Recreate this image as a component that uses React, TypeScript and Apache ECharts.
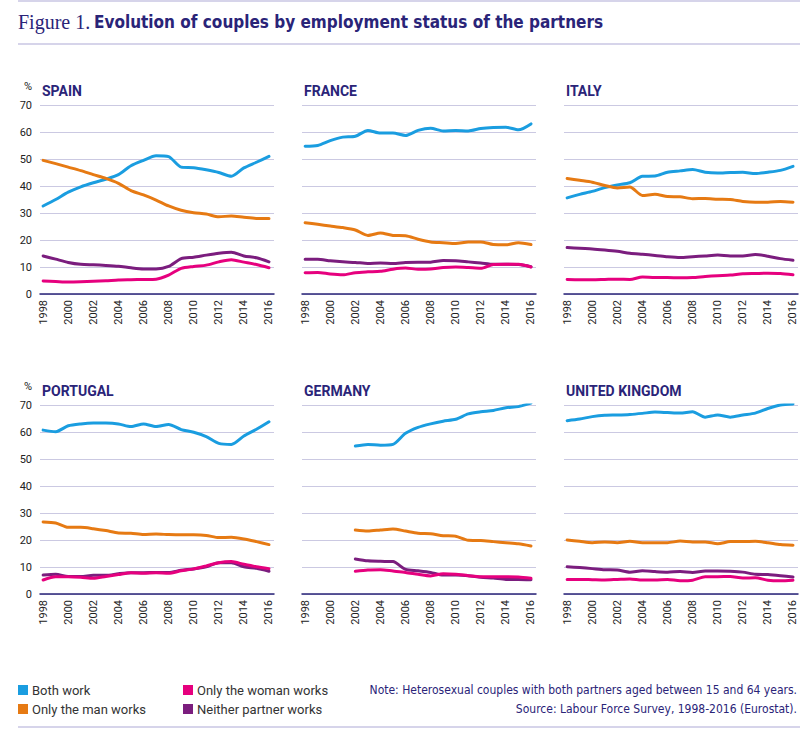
import React, { useEffect, useRef } from "react";
import * as echarts from "echarts";

const years = [1998, 1999, 2000, 2001, 2002, 2003, 2004, 2005, 2006, 2007, 2008, 2009, 2010, 2011, 2012, 2013, 2014, 2015, 2016];
const tickYears = [1998, 2000, 2002, 2004, 2006, 2008, 2010, 2012, 2014, 2016];
const yTicks = [0, 10, 20, 30, 40, 50, 60, 70];

const seriesNames = ["Both work", "Only the man works", "Neither partner works", "Only the woman works"];
const seriesColors = ["#1a9de0", "#e67a13", "#7b1d7e", "#e6007e"];

const countries = ["SPAIN", "FRANCE", "ITALY", "PORTUGAL", "GERMANY", "UNITED KINGDOM"];

// Spain
const spainBoth = [32.6, 35.0, 37.7, 39.7, 41.2, 42.5, 44.2, 47.5, 49.5, 51.2, 50.9, 47.0, 46.8, 46.0, 45.0, 43.6, 46.7, 48.8, 51.0];
const spainMan = [49.5, 48.3, 47.0, 45.7, 44.2, 42.8, 41.0, 38.3, 36.7, 34.8, 32.6, 31.0, 30.1, 29.6, 28.6, 28.9, 28.4, 28.0, 28.0];
const spainNeither = [14.1, 12.9, 11.7, 11.0, 10.8, 10.6, 10.3, 9.7, 9.3, 9.3, 10.2, 13.1, 13.6, 14.4, 15.1, 15.5, 14.1, 13.4, 11.9];
const spainWoman = [4.8, 4.6, 4.4, 4.5, 4.7, 4.9, 5.2, 5.3, 5.4, 5.5, 7.0, 9.5, 10.2, 10.7, 11.9, 12.7, 11.8, 10.9, 9.7];

// France
const franceBoth = [54.7, 55.0, 56.8, 58.1, 58.4, 60.6, 59.6, 59.6, 58.7, 60.6, 61.4, 60.4, 60.6, 60.4, 61.3, 61.7, 61.8, 60.8, 63.0];
const franceMan = [26.4, 25.8, 25.2, 24.6, 23.7, 21.7, 22.6, 21.7, 21.6, 20.3, 19.3, 19.0, 18.7, 19.3, 19.3, 18.3, 18.2, 19.0, 18.3];
const franceNeither = [12.9, 12.9, 12.3, 11.9, 11.7, 11.3, 11.5, 11.3, 11.7, 11.8, 11.8, 12.4, 12.3, 11.9, 11.5, 11.0, 11.0, 10.9, 10.1];
const franceWoman = [7.9, 8.0, 7.4, 7.1, 7.9, 8.2, 8.4, 9.2, 9.6, 9.2, 9.3, 9.8, 10.0, 9.8, 9.5, 10.9, 11.0, 11.0, 10.0];

// Italy
const italyBoth = [35.6, 36.9, 38.0, 39.4, 40.4, 41.2, 43.6, 43.7, 45.1, 45.6, 46.1, 45.1, 44.8, 45.0, 45.1, 44.6, 45.1, 45.8, 47.3];
const italyMan = [42.8, 42.1, 41.4, 40.2, 39.3, 39.6, 36.5, 36.9, 36.1, 36.0, 35.3, 35.4, 35.1, 35.0, 34.3, 34.0, 34.0, 34.3, 34.0];
const italyNeither = [17.2, 16.9, 16.7, 16.3, 15.8, 15.1, 14.7, 14.3, 13.8, 13.5, 13.8, 14.1, 14.4, 14.1, 14.1, 14.6, 14.0, 13.1, 12.5];
const italyWoman = [5.4, 5.3, 5.3, 5.4, 5.5, 5.4, 6.3, 6.1, 6.1, 6.0, 6.1, 6.5, 6.8, 7.0, 7.5, 7.6, 7.7, 7.6, 7.1];

// Portugal
const portugalBoth = [60.7, 60.1, 62.3, 63.0, 63.3, 63.3, 63.0, 62.0, 63.0, 62.0, 62.8, 60.9, 59.9, 58.3, 55.8, 55.4, 58.5, 61.0, 63.8];
const portugalMan = [26.7, 26.3, 24.7, 24.7, 24.2, 23.5, 22.6, 22.5, 22.0, 22.2, 22.0, 21.9, 21.9, 21.7, 20.9, 21.0, 20.4, 19.4, 18.3];
const portugalNeither = [7.0, 7.3, 6.5, 6.5, 6.9, 6.9, 7.5, 7.9, 7.9, 8.0, 8.0, 8.8, 9.3, 10.1, 11.6, 11.6, 10.1, 9.5, 8.4];
const portugalWoman = [5.2, 6.4, 6.4, 6.2, 5.8, 6.5, 7.2, 7.9, 7.7, 7.9, 7.7, 8.6, 9.3, 10.4, 11.6, 12.0, 11.0, 10.1, 9.4];

// Germany (data from 2002)
const germanyBoth = [null, null, null, null, 54.8, 55.4, 55.1, 55.4, 59.5, 61.7, 63.0, 64.0, 64.7, 66.7, 67.5, 68.0, 69.0, 69.4, 70.7];
const germanyMan = [null, null, null, null, 23.7, 23.3, 23.7, 24.1, 23.3, 22.5, 22.3, 21.6, 21.4, 19.9, 19.8, 19.4, 19.0, 18.6, 17.8];
const germanyNeither = [null, null, null, null, 13.0, 12.3, 12.1, 12.0, 9.1, 8.6, 8.0, 7.0, 7.0, 6.8, 6.2, 5.9, 5.4, 5.4, 5.3];
const germanyWoman = [null, null, null, null, 8.4, 8.9, 9.0, 8.5, 8.0, 7.3, 6.7, 7.5, 7.3, 6.8, 6.4, 6.4, 6.4, 6.3, 5.8];

// United Kingdom
const ukBoth = [64.2, 64.8, 65.7, 66.2, 66.3, 66.5, 66.9, 67.4, 67.2, 67.0, 67.5, 65.5, 66.3, 65.5, 66.3, 67.0, 68.7, 70.0, 70.4];
const ukMan = [20.0, 19.5, 19.0, 19.3, 19.0, 19.5, 19.0, 19.0, 19.0, 19.6, 19.3, 19.3, 18.6, 19.4, 19.4, 19.5, 19.0, 18.3, 18.1];
const ukNeither = [10.1, 9.8, 9.4, 9.0, 8.9, 8.1, 8.6, 8.3, 8.1, 8.3, 8.0, 8.5, 8.5, 8.4, 8.1, 7.3, 7.2, 6.8, 6.3];
const ukWoman = [5.4, 5.4, 5.3, 5.2, 5.4, 5.6, 5.2, 5.2, 5.4, 4.9, 5.1, 6.4, 6.4, 6.5, 5.9, 6.0, 5.1, 4.9, 5.1];

const countryData = [
  [spainBoth, spainMan, spainNeither, spainWoman],
  [franceBoth, franceMan, franceNeither, franceWoman],
  [italyBoth, italyMan, italyNeither, italyWoman],
  [portugalBoth, portugalMan, portugalNeither, portugalWoman],
  [germanyBoth, germanyMan, germanyNeither, germanyWoman],
  [ukBoth, ukMan, ukNeither, ukWoman],
];

const NAVY = "#2a2478";
const GRIDLINE = "#cbc9e2";
const RULE = "#aeaad6";
const FONT = "Roboto, 'Liberation Sans', sans-serif";
const NARROW = "'Liberation Sans Narrow', 'DejaVu Sans Condensed', Roboto, sans-serif";

export default function App() {
  const ref = useRef<HTMLDivElement>(null);

  useEffect(() => {
    if (!ref.current) return;
    const chart = echarts.init(ref.current, undefined, { renderer: "svg" });

    const colLeft = [40, 302, 564];
    const rowTop = [105, 405];
    const grids: any[] = [];
    const xAxes: any[] = [];
    const yAxes: any[] = [];
    const series: any[] = [];
    const graphics: any[] = [];

    countries.forEach((name, i) => {
      const col = i % 3;
      const row = Math.floor(i / 3);
      grids.push({ left: colLeft[col], top: rowTop[row], width: 234, height: 189 });
      xAxes.push({
        type: "value",
        gridIndex: i,
        min: 1997.75,
        max: 2016.4,
        axisLine: { show: true, onZero: false, lineStyle: { color: NAVY, width: 1.5 } },
        axisTick: { show: false },
        splitLine: { show: false },
        axisLabel: {
          customValues: tickYears,
          rotate: 90,
          margin: 6,
          fontSize: 11,
          color: "#222",
          fontFamily: FONT,
          formatter: (v: number) => String(Math.round(v)),
        },
      });
      yAxes.push({
        type: "value",
        gridIndex: i,
        min: yTicks[0],
        max: yTicks[yTicks.length - 1],
        interval: 10,
        axisLine: { show: false },
        axisTick: { show: false },
        splitLine: { show: true, lineStyle: { color: GRIDLINE, width: 1 } },
        axisLabel: { show: col === 0, margin: 8, fontSize: 11, color: "#222", fontFamily: FONT },
      });
      countryData[i].forEach((vals, s) => {
        series.push({
          type: "line",
          name: seriesNames[s],
          xAxisIndex: i,
          yAxisIndex: i,
          data: years.map((y, k) => [y, vals[k]]).filter((p) => p[1] !== null),
          showSymbol: false,
          symbol: "none",
          smooth: 0.25,
          lineStyle: { width: 3, color: seriesColors[s], join: "round", cap: "round" },
          itemStyle: { color: seriesColors[s] },
          z: 2 + s,
        });
      });
      graphics.push({
        type: "text",
        left: colLeft[col] + 2,
        top: rowTop[row] - 21,
        style: { text: name, fontSize: 14, fontWeight: "bold", fill: NAVY, fontFamily: FONT },
      });
      if (col === 0) {
        graphics.push({
          type: "text",
          left: 24,
          top: rowTop[row] - 24,
          style: { text: "%", fontSize: 11, fill: "#222", fontFamily: FONT },
        });
      }
    });

    // Title and rules
    graphics.push(
      { type: "line", shape: { x1: 18, y1: 1, x2: 800, y2: 1 }, style: { stroke: RULE, lineWidth: 1.2 } },
      { type: "line", shape: { x1: 18, y1: 44, x2: 800, y2: 44 }, style: { stroke: RULE, lineWidth: 1.2 } },
      { type: "line", shape: { x1: 18, y1: 727, x2: 800, y2: 727 }, style: { stroke: RULE, lineWidth: 1.2 } },
      {
        type: "text",
        x: 18,
        y: 22,
        style: {
          text: "Figure 1.",
          fontSize: 20,
          fill: NAVY,
          fontFamily: "'Liberation Serif', 'DejaVu Serif', serif",
          verticalAlign: "middle",
        },
      },
      {
        type: "text",
        x: 94,
        y: 22,
        style: {
          text: "Evolution of couples by employment status of the partners",
          fontSize: 17,
          fontWeight: "bold",
          fill: NAVY,
          fontFamily: NARROW,
          verticalAlign: "middle",
        },
      },
      {
        type: "text",
        x: 797,
        y: 690,
        style: {
          text: "Note: Heterosexual couples with both partners aged between 15 and 64 years.",
          fontSize: 12,
          fill: NAVY,
          align: "right",
          verticalAlign: "middle",
          fontFamily: NARROW,
        },
      },
      {
        type: "text",
        x: 797,
        y: 709,
        style: {
          text: "Source: Labour Force Survey, 1998-2016 (Eurostat).",
          fontSize: 12,
          fill: NAVY,
          align: "right",
          verticalAlign: "middle",
          fontFamily: NARROW,
        },
      }
    );

    const legendCommon = {
      orient: "vertical",
      icon: "rect",
      itemWidth: 10,
      itemHeight: 10,
      itemGap: 5,
      selectedMode: false,
      padding: 0,
      textStyle: { fontSize: 13, color: "#333", fontFamily: FONT, lineHeight: 14, padding: [0, 0, 0, -1] },
    };

    chart.setOption({
      animation: false,
      backgroundColor: "#ffffff",
      grid: grids,
      xAxis: xAxes,
      yAxis: yAxes,
      series,
      legend: [
        { ...legendCommon, left: 18, top: 683, data: [seriesNames[0], seriesNames[1]] },
        { ...legendCommon, left: 183, top: 683, data: [seriesNames[3], seriesNames[2]] },
      ],
      graphic: graphics,
    });

    return () => chart.dispose();
  }, []);

  return <div ref={ref} style={{ position: "fixed", left: 0, top: 0, width: 800, height: 731 }} />;
}
